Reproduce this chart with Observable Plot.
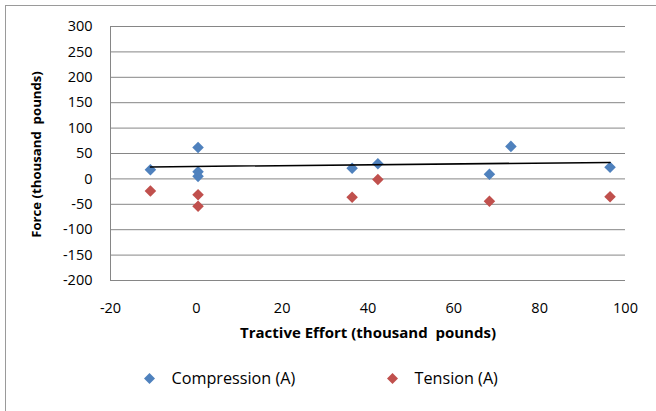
<!DOCTYPE html>
<html>
<head>
<meta charset="utf-8">
<script src="https://cdn.jsdelivr.net/npm/d3@7"></script>
<script src="https://cdn.jsdelivr.net/npm/@observablehq/plot@0.6"></script>
<style>
  html, body { margin: 0; padding: 0; background: #fff; }
  #wrap { position: relative; width: 656px; height: 411px; overflow: hidden; font-family: "Open Sans", sans-serif; }
  #frame { position: absolute; left: 5px; top: 5px; width: 700px; height: 500px; border-top: 1px solid #9a9a9a; border-left: 1px solid #9a9a9a; box-sizing: border-box; }
  #chart { position: absolute; left: 0; top: 0; }
  #legend { position: absolute; top: 368px; left: 0; width: 656px; height: 20px; font-size: 16.2px; color: #000; }
  .item { position: absolute; top: 0; display: flex; align-items: center; height: 20px; }
  .item svg { margin-right: 17px; }
</style>
</head>
<body>
<div id="wrap">
  <div id="frame"></div>
  <div id="chart"></div>
  <div id="legend"></div>
</div>
<script>
// Compression (A)
const compX = [-10.7, 0.4, 0.4, 0.4, 36.3, 42.3, 68.3, 73.3, 96.4];
const compY = [18, 62, 14, 5, 21, 30, 9, 64, 23];
// Tension (A)
const tensX = [-10.7, 0.4, 0.4, 36.3, 42.3, 68.3, 96.4];
const tensY = [-24, -31, -54, -36, -1, -44, -35];
const seriesNames = ["Compression (A)", "Tension (A)"];
const seriesColors = ["#4F81BD", "#C0504D"];
const xTicks = [-20, 0, 20, 40, 60, 80, 100];
const yTicks = [-200, -150, -100, -50, 0, 50, 100, 150, 200, 250, 300];
const xTitle = "Tractive Effort (thousand  pounds)";
const yTitle = "Force (thousand  pounds)";

const comp = compX.map((x, i) => ({x, y: compY[i], s: seriesNames[0]}));
const tens = tensX.map((x, i) => ({x, y: tensY[i], s: seriesNames[1]}));
const fmt = d => String(d);

const chart = Plot.plot({
  width: 656,
  height: 345,
  marginLeft: 110,
  marginRight: 31,
  marginTop: 26,
  marginBottom: 65,
  style: {fontFamily: "'Open Sans', sans-serif", fontSize: "14.5px", color: "#000", background: "transparent"},
  x: {domain: [-20, 100]},
  y: {domain: [-200, 300]},
  color: {domain: seriesNames, range: seriesColors},
  marks: [
    Plot.gridY(yTicks, {stroke: "#868686", strokeOpacity: 1, strokeWidth: 1}),
    Plot.ruleX([-20], {stroke: "#868686", strokeWidth: 1}),
    Plot.axisY(yTicks, {tickSize: 0, tickPadding: 18, tickFormat: fmt, label: null, fontSize: 14.5}),
    Plot.axisX(xTicks, {tickSize: 0, tickPadding: 22, tickFormat: fmt, label: null, fontSize: 14.5}),
    Plot.text([xTitle], {text: d => d, frameAnchor: "bottom", lineAnchor: "middle", textAnchor: "middle", dy: 53, fontWeight: "bold", fontSize: 15, fill: "#000"}),
    Plot.text([yTitle], {text: d => d, frameAnchor: "left", lineAnchor: "middle", textAnchor: "middle", dx: -74, dy: 1, rotate: -90, fontWeight: "bold", fontSize: 13.2, fill: "#000"}),
    Plot.dot(comp, {x: "x", y: "y", symbol: "diamond2", r: 5.2, fill: "s", stroke: "none"}),
    Plot.dot(tens, {x: "x", y: "y", symbol: "diamond2", r: 5.2, fill: "s", stroke: "none"}),
    Plot.linearRegressionY(comp, {x: "x", y: "y", stroke: "#000", strokeWidth: 1.5, ci: 0})
  ]
});
document.getElementById("chart").appendChild(chart);

// legend
const legend = document.getElementById("legend");
const legendLeft = [143.5, 386.5];
seriesNames.forEach((name, i) => {
  const item = document.createElement("div");
  item.className = "item";
  item.style.left = legendLeft[i] + "px";
  item.innerHTML = `<svg width="11" height="11" viewBox="-5.5 -5.5 11 11"><path d="M0,-5.5L5.5,0L0,5.5L-5.5,0Z" fill="${seriesColors[i]}"/></svg><span>${name}</span>`;
  legend.appendChild(item);
});
</script>
</body>
</html>
